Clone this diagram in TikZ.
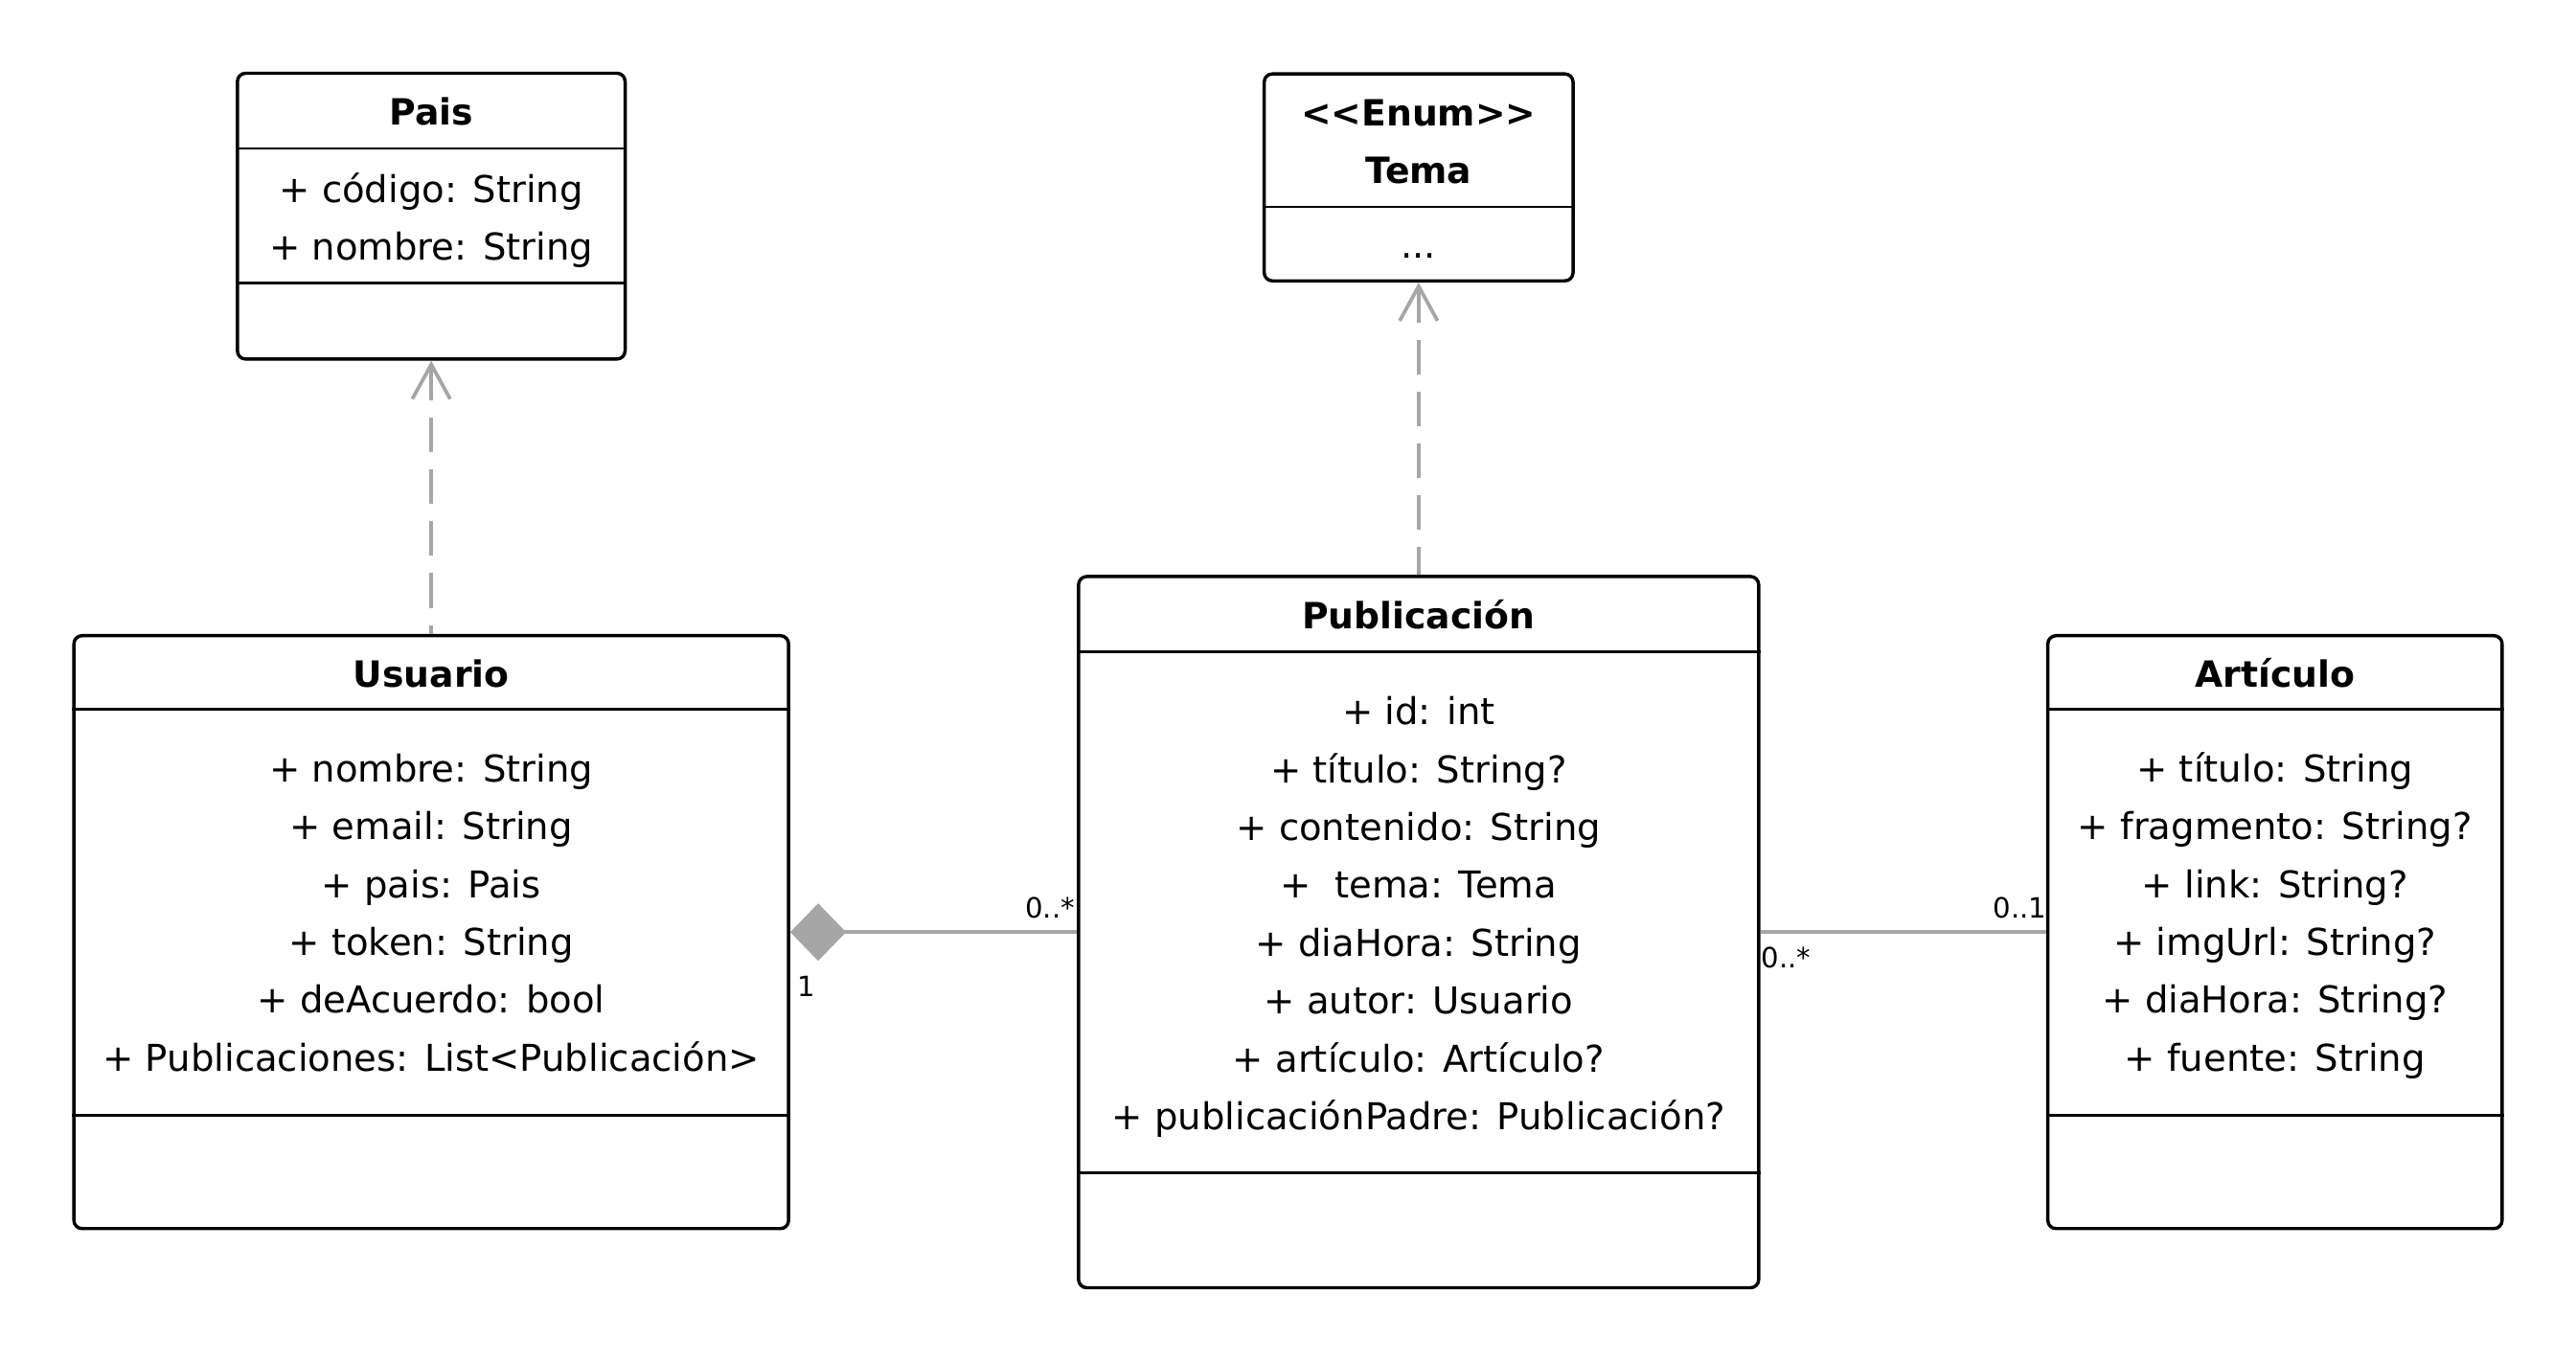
\documentclass[tikz,border=0pt]{standalone}
\usepackage{fontspec}
\setmainfont{DejaVu Sans}
\usetikzlibrary{arrows.meta}

\definecolor{linkgray}{HTML}{A6A6A6}

\tikzset{
  classbox/.style={draw, line width=2pt, rounded corners=5pt, inner sep=0pt},
  divider/.style={line width=1.6pt},
  classname/.style={font=\fontsize{22}{26}\selectfont\bfseries, inner sep=0pt, anchor=base},
  attrs/.style={font=\fontsize{22.5}{35.2}\selectfont, align=center, inner sep=0pt},
  mult/.style={font=\fontsize{17}{20}\selectfont, inner sep=0pt},
  link/.style={draw=linkgray, line width=2.2pt},
  depend/.style={link, dash pattern=on 21pt off 10.5pt, {Straight Barb[length=21pt,width=23pt]}-},
  compose/.style={link, {Diamond[length=34pt,width=35pt,line width=0pt]}-}
}

\begin{document}
\begin{tikzpicture}[x=1pt,y=-1pt]
\useasboundingbox (0,0) rectangle (1568,828.6);

% Pais
\node[classbox, minimum width=236pt, minimum height=174pt] (pais) at (262.5,131.6) {};
\draw[divider] (pais.west |- 0,90.4) -- (pais.east |- 0,90.4);
\draw[divider] (pais.west |- 0,172.2) -- (pais.east |- 0,172.2);
\node[classname] (pais-name) at (262.5,76.2) {Pais};
\node[attrs] (pais-attrs) at (262.5,133.9) {\strut+ código: String\\+ nombre: String\strut};

% Tema
\node[classbox, minimum width=188pt, minimum height=126pt] (tema) at (863.5,108) {};
\draw[divider] (tema.west |- 0,126) -- (tema.east |- 0,126);
\node[classname] (tema-st) at (863.5,76.5) {<{}<Enum>{}>};
\node[classname] (tema-name) at (863.5,111.5) {Tema};
\node[attrs, anchor=base] (tema-vals) at (863.5,157) {...};

% Usuario
\node[classbox, minimum width=435pt, minimum height=361pt] (usuario) at (262.5,567.5) {};
\draw[divider] (usuario.west |- 0,432) -- (usuario.east |- 0,432);
\draw[divider] (usuario.west |- 0,679) -- (usuario.east |- 0,679);
\node[classname] (usuario-name) at (262.5,418.2) {Usuario};
\node[attrs] (usuario-attrs) at (262.5,557) {\strut+ nombre: String\\+ email: String\\+ pais: Pais\\+ token: String\\+ deAcuerdo: bool\\+ Publicaciones: List<Publicación>\strut};

% Publicacion
\node[classbox, minimum width=414pt, minimum height=433pt] (publicacion) at (863.5,567.5) {};
\draw[divider] (publicacion.west |- 0,397) -- (publicacion.east |- 0,397);
\draw[divider] (publicacion.west |- 0,714) -- (publicacion.east |- 0,714);
\node[classname] (publicacion-name) at (863.5,382.7) {Publicación};
\node[attrs] (publicacion-attrs) at (863.5,557.5) {\strut+ id: int\\+ título: String?\\+ contenido: String\\+\ \ tema: Tema\\+ diaHora: String\\+ autor: Usuario\\+ artículo: Artículo?\\+ publicaciónPadre: Publicación?\strut};

% Articulo
\node[classbox, minimum width=276.5pt, minimum height=361pt] (articulo) at (1384.75,567.5) {};
\draw[divider] (articulo.west |- 0,432) -- (articulo.east |- 0,432);
\draw[divider] (articulo.west |- 0,679) -- (articulo.east |- 0,679);
\node[classname] (articulo-name) at (1384.75,418.2) {Artículo};
\node[attrs] (articulo-attrs) at (1384.75,557) {\strut+ título: String\\+ fragmento: String?\\+ link: String?\\+ imgUrl: String?\\+ diaHora: String?\\+ fuente: String\strut};

% relaciones
\draw[depend] (pais) -- (usuario);
\draw[depend] (tema) -- (publicacion);
\draw[compose] (usuario) -- (publicacion);
\draw[link] (publicacion) -- (articulo);

\node[mult, anchor=base east] (mult-comp-pub) at (654.5,558.8) {0..*};
\node[mult, anchor=base west] (mult-comp-usr) at (485.5,607) {1};
\node[mult, anchor=base east] (mult-assoc-art) at (1246,558.8) {0..1};
\node[mult, anchor=base west] (mult-assoc-pub) at (1072,589) {0..*};
\end{tikzpicture}
\end{document}
